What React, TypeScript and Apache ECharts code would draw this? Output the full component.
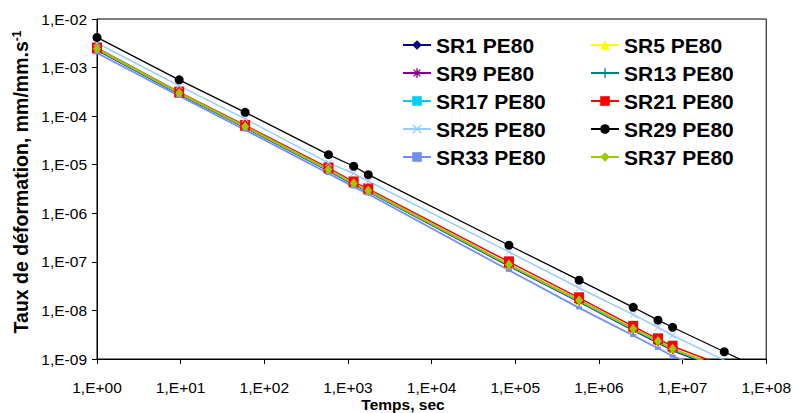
import { useEffect, useRef } from "react";
import * as echarts from "echarts";

// Time (s)
const timesSec = [1, 9.6, 59, 585, 1170, 1750, 84000, 580000, 2570000, 5080000, 7600000, 31500000, 100000000];

// Strain rate (mm/mm.s-1) per series
const sr1 = [2.3e-3, 2.85e-4, 5.8e-5, 7.5e-6, 3.9e-6, 2.8e-6, 8.2e-8, 1.5e-8, 3.9e-9, 2.15e-9, 1.5e-9, 5.8e-10, 2.3e-10];
const sr5 = [2.4e-3, 2.95e-4, 6.0e-5, 7.8e-6, 4.05e-6, 2.9e-6, 8.6e-8, 1.58e-8, 4.1e-9, 2.3e-9, 1.58e-9, 6.2e-10, 2.5e-10];
const sr9 = [2.35e-3, 2.9e-4, 5.9e-5, 7.65e-6, 3.95e-6, 2.85e-6, 8.4e-8, 1.54e-8, 4.0e-9, 2.2e-9, 1.54e-9, 6.0e-10, 2.4e-10];
const sr13 = [2.42e-3, 2.97e-4, 6.05e-5, 7.9e-6, 4.1e-6, 2.92e-6, 8.7e-8, 1.6e-8, 4.15e-9, 2.32e-9, 1.6e-9, 6.3e-10, 2.55e-10];
const sr17 = [2.38e-3, 2.92e-4, 5.95e-5, 7.7e-6, 4.0e-6, 2.87e-6, 8.5e-8, 1.56e-8, 4.05e-9, 2.25e-9, 1.56e-9, 6.1e-10, 2.45e-10];
const sr21 = [2.53e-3, 3.12e-4, 6.45e-5, 8.6e-6, 4.43e-6, 3.18e-6, 1.0e-7, 1.82e-8, 4.7e-9, 2.6e-9, 1.83e-9, 7.2e-10, 2.9e-10];
const sr25 = [3.2e-3, 4.2e-4, 8.8e-5, 1.09e-5, 6.6e-6, 4.57e-6, 1.6e-7, 2.9e-8, 8.2e-9, 4.5e-9, 3.05e-9, 9.5e-10, 3.5e-10];
const sr29 = [4.18e-3, 5.6e-4, 1.2e-4, 1.61e-5, 9.3e-6, 6.25e-6, 2.2e-7, 4.2e-8, 1.16e-8, 6.3e-9, 4.5e-9, 1.41e-9, 5.5e-10];
const sr33 = [2.0e-3, 2.6e-4, 5.2e-5, 6.6e-6, 3.5e-6, 2.5e-6, 6.7e-8, 1.13e-8, 3.05e-9, 1.66e-9, 1.15e-9, 4.5e-10, 1.8e-10];
const sr37 = [2.45e-3, 3.0e-4, 6.1e-5, 8.0e-6, 4.15e-6, 2.95e-6, 8.8e-8, 1.62e-8, 4.2e-9, 2.35e-9, 1.62e-9, 6.4e-10, 2.6e-10];

const seriesNames = [
  "SR1 PE80", "SR5 PE80", "SR9 PE80", "SR13 PE80", "SR17 PE80",
  "SR21 PE80", "SR25 PE80", "SR29 PE80", "SR33 PE80", "SR37 PE80",
];
const seriesValues = [sr1, sr5, sr9, sr13, sr17, sr21, sr25, sr29, sr33, sr37];

const xTickLabels = ["1,E+00", "1,E+01", "1,E+02", "1,E+03", "1,E+04", "1,E+05", "1,E+06", "1,E+07", "1,E+08"];
const yTickLabels = ["1,E-09", "1,E-08", "1,E-07", "1,E-06", "1,E-05", "1,E-04", "1,E-03", "1,E-02"];

const ASTERISK = "path://M4.3,0h1.4v10h-1.4z M0,4.3h10v1.4h-10z M1,2 L2,1 L9,8 L8,9z M8,1 L9,2 L2,9 L1,8z";
const PLUS = "path://M4.3,0h1.4v10h-1.4z M0,4.3h10v1.4h-10z";
const CROSS = "path://M1,0 L5,4 L9,0 L10,1 L6,5 L10,9 L9,10 L5,6 L1,10 L0,9 L4,5 L0,1z";

const styles = [
  { color: "#000080", symbol: "diamond", size: [6, 8], width: 1.5 },
  { color: "#ffff00", symbol: "triangle", size: 8, width: 1.5 },
  { color: "#800080", symbol: ASTERISK, size: 8, width: 1.5 },
  { color: "#008080", symbol: PLUS, size: 8, width: 1.5 },
  { color: "#00ccff", symbol: "rect", size: [8, 3], width: 1.5 },
  { color: "#ff0000", symbol: "rect", size: [10, 11], width: 1.5 },
  { color: "#99ccff", symbol: CROSS, size: 7, width: 1.5 },
  { color: "#000000", symbol: "circle", size: 9, width: 1.3 },
  { color: "#6f8ff5", symbol: "rect", size: [6, 3], width: 1.8 },
  { color: "#99cc00", symbol: "diamond", size: [8, 10], width: 2 },
];

export default function App() {
  const ref = useRef<HTMLDivElement>(null);
  useEffect(() => {
    if (!ref.current) return;
    const chart = echarts.init(ref.current, null, { renderer: "svg" });
    const series = seriesNames.map((name, i) => ({
      name,
      type: "line",
      data: timesSec.map((t, j) => [t, seriesValues[i][j]]),
      symbol: styles[i].symbol,
      symbolSize: styles[i].size,
      clip: true,
      lineStyle: { color: styles[i].color, width: styles[i].width },
      itemStyle: { color: styles[i].color, borderWidth: 0 },
      emphasis: { disabled: true },
    }));
    const legendCommon = {
      orient: "vertical",
      padding: 0,
      itemWidth: 28,
      itemHeight: 12,
      itemGap: 6,
      textStyle: {
        fontFamily: "Liberation Sans",
        fontWeight: "bold",
        fontSize: 21,
        color: "#000",
        lineHeight: 22,
      },
    };
    const font = "Liberation Sans";
    chart.setOption({
      animation: false,
      backgroundColor: "#fff",
      grid: { left: 97, right: 23, top: 19, bottom: 54, show: true, borderColor: "#000", borderWidth: 1 },
      legend: [
        { ...legendCommon, left: 402, top: 34, data: seriesNames.filter((_, i) => i % 2 === 0) },
        { ...legendCommon, left: 590, top: 34, data: seriesNames.filter((_, i) => i % 2 === 1) },
      ],
      xAxis: {
        type: "log",
        logBase: 10,
        min: 1,
        max: 1e8,
        interval: 1,
        axisLine: { lineStyle: { color: "#000", width: 1 } },
        axisTick: { show: true, inside: false, length: 5, lineStyle: { color: "#000" } },
        splitLine: { show: false },
        minorTick: { show: false },
        axisLabel: {
          margin: 20,
          fontFamily: font,
          fontSize: 15.5,
          color: "#000",
          formatter: (v: number) => xTickLabels[Math.round(Math.log10(v))] ?? "",
        },
      },
      yAxis: {
        type: "log",
        logBase: 10,
        min: 1e-9,
        max: 1e-2,
        interval: 1,
        axisLine: { show: true, lineStyle: { color: "#000", width: 1 } },
        axisTick: { show: true, inside: false, length: 5, lineStyle: { color: "#000" } },
        splitLine: { show: false },
        axisLabel: {
          margin: 10,
          fontFamily: font,
          fontSize: 15.5,
          color: "#000",
          formatter: (v: number) => yTickLabels[Math.round(Math.log10(v)) + 9] ?? "",
        },
      },
      graphic: [
        {
          type: "text",
          x: 403,
          y: 404,
          style: {
            text: "Temps, sec",
            fontFamily: font,
            fontWeight: "bold",
            fontSize: 15.5,
            fill: "#000",
            align: "center",
            verticalAlign: "middle",
          },
        },
        {
          type: "text",
          x: 21,
          y: 182,
          rotation: Math.PI / 2,
          style: {
            text: "Taux de déformation, mm/mm.s{sup|-1}",
            fontFamily: font,
            fontWeight: "bold",
            fontSize: 19.5,
            fill: "#000",
            align: "center",
            verticalAlign: "middle",
            rich: {
              sup: { fontFamily: font, fontWeight: "bold", fontSize: 12, verticalAlign: "top", fill: "#000" },
            },
          },
        },
      ],
      series,
    });
    return () => chart.dispose();
  }, []);
  return <div ref={ref} style={{ position: "fixed", left: 0, top: 0, width: 794, height: 413 }} />;
}
